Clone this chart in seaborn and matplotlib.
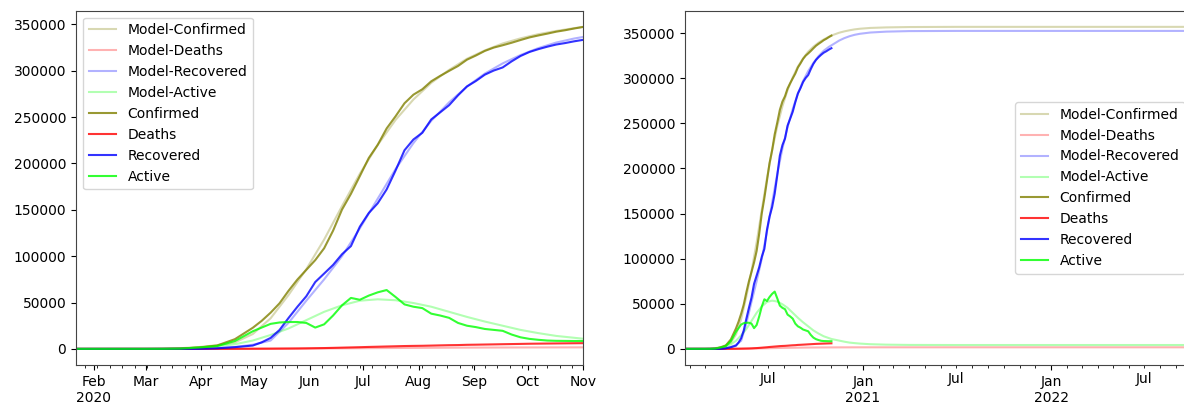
import matplotlib
matplotlib.use("Agg")
import matplotlib.pyplot as plt
import matplotlib.dates as mdates
from matplotlib.ticker import FuncFormatter
import pandas as pd
import seaborn as sns

obs_dates = ["2020-01-22", "2020-02-15", "2020-03-01", "2020-03-10", "2020-03-20", "2020-03-31",
             "2020-04-10", "2020-04-20", "2020-04-30", "2020-05-05", "2020-05-10", "2020-05-15",
             "2020-05-20", "2020-05-25", "2020-05-30", "2020-06-04", "2020-06-09", "2020-06-14",
             "2020-06-19", "2020-06-24", "2020-06-29", "2020-07-04", "2020-07-09", "2020-07-14",
             "2020-07-19", "2020-07-24", "2020-07-29", "2020-08-03", "2020-08-08", "2020-08-13",
             "2020-08-18", "2020-08-23", "2020-08-28", "2020-09-02", "2020-09-07", "2020-09-12",
             "2020-09-17", "2020-09-22", "2020-09-27", "2020-10-02", "2020-10-07", "2020-10-12",
             "2020-10-17", "2020-10-22", "2020-10-27", "2020-11-01"]
confirmed = [0, 0, 0, 20, 274, 1563, 3651, 10484, 22753, 30251, 39048, 49176,
             62545, 74795, 85261, 95748, 108571, 127541, 150292, 167267, 186436, 205929,
             220144, 237803, 250920, 264973, 274219, 280093, 288690, 294519, 299914, 305186,
             312000, 316500, 321456, 325050, 327551, 330246, 333193, 335997, 338132, 340089,
             342202, 343774, 345631, 347282]
deaths = [0, 0, 0, 0, 0, 10, 50, 110, 170, 220, 260, 330, 390, 460, 580, 740, 900, 1110,
          1350, 1590, 1830, 2120, 2350, 2600, 2830, 3080, 3240, 3360, 3570, 3800, 4000, 4130,
          4410, 4540, 4710, 4870, 5050, 5210, 5380, 5560, 5670, 5790, 5890, 5990, 6090, 6180]
recovered = [0, 0, 0, 0, 24, 53, 604, 1881, 3596, 7051, 11819, 20384, 33206, 45396, 56758,
             72106, 81288, 90569, 102108, 110880, 131837, 146571, 157085, 172020, 192434,
             214270, 225877, 233144, 247560, 255181, 262907, 273567, 283130, 289020, 295826,
             300282, 303620, 310177, 315978, 320322, 323362, 326013, 328337, 329924, 331793,
             333362]
active = [0, 0, 0, 20, 250, 1500, 3000, 8500, 19000, 23000, 27000, 28500, 29000, 29000,
          28000, 23000, 26500, 36000, 47000, 55000, 53000, 57500, 61000, 63500, 56000, 48000,
          45500, 44000, 38000, 36000, 33500, 28000, 25000, 23500, 21500, 20500, 19500, 15500,
          12500, 10800, 9800, 9000, 8700, 8600, 8500, 8500]

# model curves
model_dates = ["2020-01-22", "2020-03-01", "2020-03-11", "2020-03-21", "2020-03-31", "2020-04-10",
               "2020-04-20", "2020-04-30", "2020-05-10", "2020-05-20", "2020-05-30", "2020-06-09",
               "2020-06-19", "2020-06-29", "2020-07-09", "2020-07-19", "2020-07-29", "2020-08-08",
               "2020-08-18", "2020-08-28", "2020-09-07", "2020-09-17", "2020-09-27", "2020-10-07",
               "2020-10-17", "2020-10-27", "2020-11-01", "2020-11-16", "2020-11-26", "2020-12-06",
               "2020-12-16", "2020-12-26", "2021-01-15", "2021-02-15", "2021-04-01", "2021-07-01",
               "2022-01-01", "2022-10-01"]
model_confirmed = [0, 100, 300, 800, 2000, 4000, 7000, 16000, 33000, 58000, 86000, 118000,
                   154000, 189000, 220000, 247000, 269000, 287000, 301000, 313000, 322000,
                   329500, 335000, 339500, 343000, 346000, 347400, 350500, 352000, 353200,
                   354200, 354900, 355800, 356400, 356800, 357000, 357000, 357000]
model_deaths = [0, 0, 0, 4, 10, 35, 70, 120, 180, 265, 365, 475, 595, 720, 850, 965, 1080,
                1180, 1275, 1360, 1430, 1490, 1540, 1580, 1620, 1645, 1660, 1690, 1710, 1720,
                1735, 1745, 1750, 1760, 1765, 1765, 1765, 1765]
model_recovered = [0, 0, 50, 150, 400, 900, 2000, 4500, 9000, 28000, 52000, 75000, 100000,
                   130000, 162000, 194000, 222000, 246000, 266000, 283000, 297000, 308000,
                   317000, 324500, 330500, 334800, 336500, 341800, 344500, 346600, 348200,
                   349300, 350700, 351700, 352300, 352500, 352500, 352500]
model_active = [0, 100, 250, 600, 1500, 3000, 5000, 9000, 15000, 22000, 31000, 40000, 47000,
                52000, 53500, 52500, 49500, 45500, 40000, 34500, 29500, 25000, 20500, 17000,
                14000, 12000, 11000, 9200, 8000, 7000, 6400, 5900, 5200, 4700, 4400, 4300,
                4300, 4300]

obs = pd.DataFrame({"date": pd.to_datetime(obs_dates), "Confirmed": confirmed,
                    "Deaths": deaths, "Recovered": recovered, "Active": active})
model = pd.DataFrame({"date": pd.to_datetime(model_dates), "Confirmed": model_confirmed,
                      "Deaths": model_deaths, "Recovered": model_recovered,
                      "Active": model_active})

colors = {"Confirmed": "olive", "Deaths": "red", "Recovered": "blue", "Active": "lime"}


def draw(ax, mdf):
    for name, c in colors.items():
        sns.lineplot(data=mdf, x="date", y=name, ax=ax, color=c, alpha=0.3,
                     lw=1.5, label="Model-" + name)
    for name, c in colors.items():
        sns.lineplot(data=obs, x="date", y=name, ax=ax, color=c, alpha=0.8,
                     lw=1.5, label=name)
    ax.set_xlabel("")
    ax.set_ylabel("")


fig = plt.figure(figsize=(11.84, 4.03), dpi=100)
ax1 = fig.add_axes([0.0642, 0.0943, 0.4282, 0.879])
ax2 = fig.add_axes([0.5785, 0.0943, 0.4282, 0.879])

# left: observed period only
end = obs["date"].iloc[-1]
draw(ax1, model[model["date"] <= end])
ax1.set_xlim(obs["date"].iloc[0], end)
ax1.xaxis.set_major_locator(mdates.MonthLocator())
ax1.xaxis.set_minor_locator(mdates.WeekdayLocator(byweekday=mdates.MO))


def month_fmt(x, pos):
    d = mdates.num2date(x)
    if d.month == 1 or x - ax1.get_xlim()[0] < 31:
        return d.strftime("%b\n%Y")
    return d.strftime("%b")


ax1.xaxis.set_major_formatter(FuncFormatter(month_fmt))
ax1.legend(loc="upper left")

# right: full model horizon
draw(ax2, model)
ax2.set_xlim(model["date"].iloc[0], model["date"].iloc[-1])
ax2.xaxis.set_major_locator(mdates.YearLocator())
ax2.xaxis.set_major_formatter(mdates.DateFormatter("%b\n%Y"))
ax2.xaxis.set_minor_locator(mdates.MonthLocator())
ax2.xaxis.set_minor_formatter(
    FuncFormatter(lambda x, pos: "Jul" if mdates.num2date(x).month == 7 else ""))
ax2.legend(loc="center right")

for ax in (ax1, ax2):
    for s in ax.spines.values():
        s.set_color("#444444")

fig.savefig("out.png", dpi=100)
